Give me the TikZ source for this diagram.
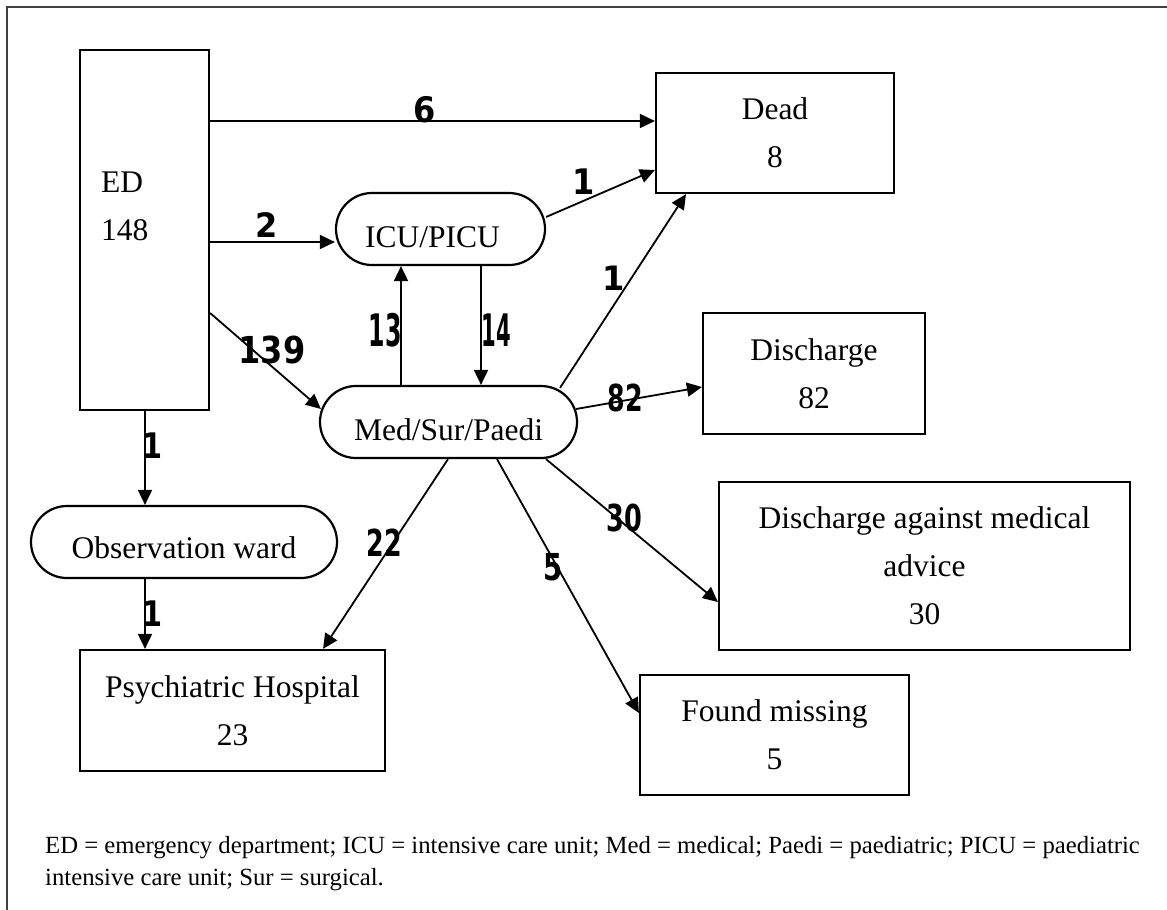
\documentclass[tikz,border=0pt]{standalone}
\usepackage{fontspec}
\setmainfont{Liberation Serif}
\newfontfamily\labfam{DejaVu Sans}
\usetikzlibrary{arrows.meta,calc}
\begin{document}
\begin{tikzpicture}[x=1pt,y=-1pt,
  box/.style={draw,line width=2.2pt,rectangle,inner sep=0pt,align=center,font=\fontsize{31.5}{48}\selectfont},
  ward/.style={box,rounded corners=36pt},
  arr/.style={line width=1.8pt,-{Triangle[length=15pt,width=14pt]}},
  lab/.style={inner sep=0pt,font=\fontsize{32}{32}\labfam\bfseries},
  foot/.style={anchor=base west,inner sep=0pt,font=\fontsize{24.7}{32}\selectfont}
]
\useasboundingbox (0,0) rectangle (1167,910);
\fill[white] (0,0) rectangle (1167,910);
\draw[line width=1.4pt,black!75] (7,910) -- (7,7) -- (1167,7);

% nodes
\node[box,minimum width=129pt,minimum height=360pt] (ED) at (144.5,230) {};
\node[anchor=west,align=left,inner sep=0pt,font=\fontsize{31.5}{48}\selectfont] (EDt) at (101,206) {ED\\148};
\node[box,minimum width=238pt,minimum height=120pt] (Dead) at (775,133) {Dead\\8};
\node[ward,minimum width=209pt,minimum height=72pt] (ICU) at (440.5,229) {\kern-16pt\raisebox{-8pt}[\height][\depth]{ICU/PICU}};
\node[ward,minimum width=257pt,minimum height=72pt] (Med) at (448.5,422) {\raisebox{-8pt}[\height][\depth]{Med/Sur/Paedi}};
\node[box,minimum width=222pt,minimum height=121pt] (Dis) at (814,373.5) {Discharge\\82};
\node[box,minimum width=411pt,minimum height=168pt] (DAMA) at (924.5,566) {Discharge against medical\\advice\\30};
\node[box,minimum width=269pt,minimum height=120pt] (Miss) at (774.5,735) {Found missing\\5};
\node[ward,minimum width=306pt,minimum height=72pt] (Obs) at (184,542) {\raisebox{-6pt}[\height][\depth]{Observation ward}};
\node[box,minimum width=305pt,minimum height=121pt] (Psy) at (232.5,710.5) {Psychiatric Hospital\\23};

% connectors
\draw[arr] (ED.east |- 0,121) -- (Dead.west |- 0,121);
\draw[arr] (ED.east |- 0,242) -- (ICU.west |- 0,242);
\draw[arr] (ED.east |- 0,313) -- ($(Med.west |- 0,409)+(2,0)$);
\draw[arr] (ICU.east |- 0,217) -- (Dead.west |- 0,170);
\draw[arr] (Med.north -| 401,0) -- (ICU.south -| 401,0);
\draw[arr] (ICU.south -| 481,0) -- (Med.north -| 481,0);
\draw[arr] ($(Med.north -| 560,0)+(0,3)$) -- (Dead.south -| 686,0);
\draw[arr] ($(Med.east |- 0,409)+(-2,0)$) -- (Dis.west |- 0,387);
\draw[arr] (Med.south -| 546,0) -- (DAMA.west |- 0,602);
\draw[arr] (Med.south -| 497,0) -- (Miss.west |- 0,713);
\draw[arr] (Med.south -| 448,0) -- (Psy.north -| 323,0);
\draw[arr] (ED.south -| 145,0) -- (Obs.north -| 145,0);
\draw[arr] (Obs.south -| 145,0) -- (Psy.north -| 145,0);

% labels
\node[lab] (l6) at (425,110) {\scalebox{1}[1.1]{6}};
\node[lab] (l2) at (267,225) {\scalebox{1}[1.05]{2}};
\node[lab] (l1a) at (584,182) {\scalebox{1}[1.1]{1}};
\node[lab] (l139) at (272,350) {\scalebox{1}[1.16]{139}};
\node[lab] (l13) at (385,330) {\scalebox{0.74}[1.4]{13}};
\node[lab] (l14) at (496,330) {\scalebox{0.66}[1.4]{14}};
\node[lab] (l1b) at (614,278) {\scalebox{1}[1.05]{1}};
\node[lab] (l82) at (625,398) {\scalebox{0.79}[1.16]{82}};
\node[lab] (l30) at (624,518) {\scalebox{0.8}[1.16]{30}};
\node[lab] (l5) at (553,567) {\scalebox{0.86}[1.16]{5}};
\node[lab] (l22) at (384,543) {\scalebox{0.79}[1.16]{22}};
\node[lab] (l1c) at (153,446) {\scalebox{0.9}[1.1]{1}};
\node[lab] (l1d) at (153,614) {\scalebox{0.9}[1.1]{1}};

% footnote
\node[foot] (fn1) at (45,853) {ED = emergency department; ICU = intensive care unit; Med = medical; Paedi = paediatric; PICU = paediatric};
\node[foot] (fn2) at (45,885) {intensive care unit; Sur = surgical.};
\end{tikzpicture}
\end{document}
